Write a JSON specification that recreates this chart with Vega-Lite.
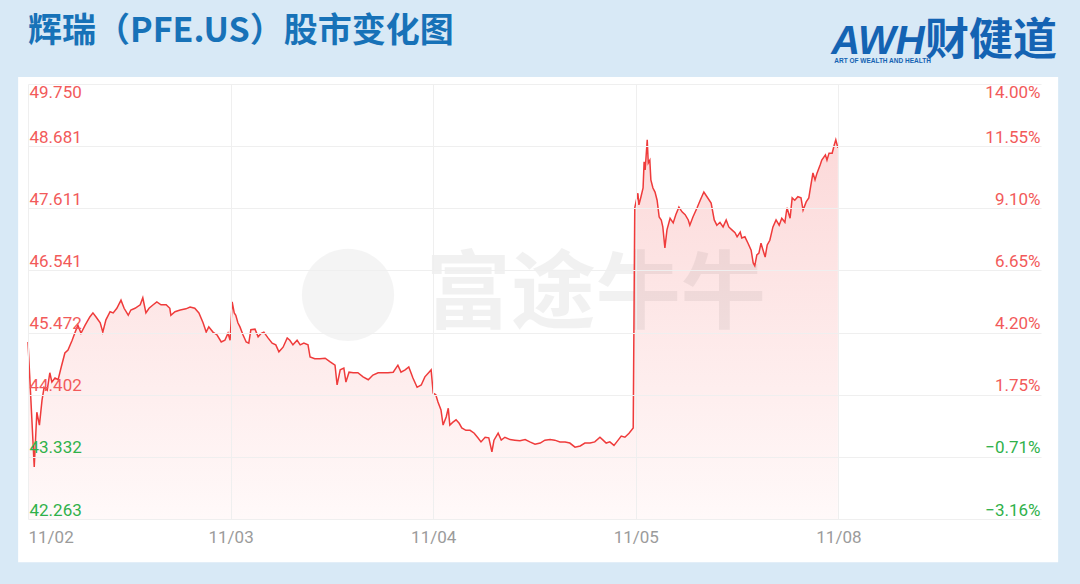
{
  "$schema": "https://vega.github.io/schema/vega-lite/v6.json",
  "width": 1013,
  "height": 435,
  "autosize": {"type": "none"},
  "padding": {"left": 28, "top": 84, "right": 39, "bottom": 65},
  "background": "#d8e9f6",
  "config": {"view": {"stroke": null}},
  "datasets": {
    "pfe": [
      {"m":0,"p":45.31},{"m":12,"p":43.16},{"m":17,"p":44.10},{"m":22,"p":43.88},{"m":27,"p":44.31},{"m":31,"p":44.53},{"m":37,"p":44.48},{"m":42,"p":44.78},{"m":46,"p":44.62},{"m":52,"p":44.69},{"m":58,"p":44.66},{"m":64,"p":44.88},{"m":71,"p":45.12},{"m":77,"p":45.17},{"m":85,"p":45.34},{"m":90,"p":45.46},{"m":96,"p":45.60},{"m":102,"p":45.46},{"m":110,"p":45.60},{"m":119,"p":45.74},{"m":125,"p":45.81},{"m":131,"p":45.74},{"m":139,"p":45.64},{"m":144,"p":45.48},{"m":150,"p":45.69},{"m":158,"p":45.83},{"m":164,"p":45.81},{"m":171,"p":45.89},{"m":179,"p":46.03},{"m":185,"p":45.89},{"m":193,"p":45.77},{"m":198,"p":45.86},{"m":206,"p":45.89},{"m":216,"p":45.95},{"m":221,"p":46.07},{"m":227,"p":45.81},{"m":233,"p":45.89},{"m":241,"p":45.95},{"m":248,"p":46.00},{"m":256,"p":45.95},{"m":266,"p":45.95},{"m":273,"p":45.89},{"m":275,"p":45.77},{"m":283,"p":45.83},{"m":293,"p":45.86},{"m":304,"p":45.88},{"m":312,"p":45.91},{"m":321,"p":45.89},{"m":329,"p":45.81},{"m":337,"p":45.64},{"m":343,"p":45.48},{"m":348,"p":45.57},{"m":356,"p":45.48},{"m":364,"p":45.43},{"m":372,"p":45.31},{"m":379,"p":45.34},{"m":385,"p":45.46},{"m":389,"p":45.34},
      {"m":393,"p":46.00},{"m":397,"p":45.81},{"m":400,"p":45.77},{"m":404,"p":45.64},{"m":408,"p":45.57},{"m":414,"p":45.43},{"m":420,"p":45.31},{"m":425,"p":45.29},{"m":429,"p":45.52},{"m":437,"p":45.53},{"m":443,"p":45.40},{"m":449,"p":45.46},{"m":454,"p":45.48},{"m":462,"p":45.38},{"m":470,"p":45.29},{"m":477,"p":45.26},{"m":483,"p":45.14},{"m":491,"p":45.22},{"m":499,"p":45.38},{"m":504,"p":45.34},{"m":510,"p":45.26},{"m":518,"p":45.34},{"m":524,"p":45.26},{"m":531,"p":45.29},{"m":539,"p":45.26},{"m":543,"p":45.05},{"m":552,"p":45.02},{"m":562,"p":45.02},{"m":572,"p":45.03},{"m":581,"p":44.97},{"m":591,"p":44.91},{"m":595,"p":44.57},{"m":601,"p":44.83},{"m":608,"p":44.86},{"m":612,"p":44.62},{"m":618,"p":44.79},{"m":626,"p":44.78},{"m":635,"p":44.78},{"m":645,"p":44.71},{"m":655,"p":44.66},{"m":664,"p":44.74},{"m":674,"p":44.78},{"m":683,"p":44.78},{"m":693,"p":44.78},{"m":703,"p":44.79},{"m":712,"p":44.91},{"m":718,"p":44.79},{"m":726,"p":44.83},{"m":733,"p":44.88},{"m":741,"p":44.69},{"m":749,"p":44.53},{"m":757,"p":44.57},{"m":764,"p":44.71},{"m":772,"p":44.79},{"m":776,"p":44.83},
      {"m":780,"p":44.43},{"m":785,"p":44.40},{"m":789,"p":44.28},{"m":795,"p":44.14},{"m":799,"p":43.88},{"m":805,"p":44.02},{"m":809,"p":44.17},{"m":812,"p":43.88},{"m":818,"p":43.93},{"m":824,"p":43.97},{"m":830,"p":43.91},{"m":835,"p":43.83},{"m":843,"p":43.79},{"m":851,"p":43.79},{"m":859,"p":43.74},{"m":866,"p":43.66},{"m":872,"p":43.59},{"m":880,"p":43.67},{"m":887,"p":43.66},{"m":893,"p":43.42},{"m":897,"p":43.62},{"m":905,"p":43.74},{"m":911,"p":43.62},{"m":918,"p":43.67},{"m":928,"p":43.63},{"m":937,"p":43.62},{"m":947,"p":43.61},{"m":957,"p":43.63},{"m":966,"p":43.59},{"m":976,"p":43.55},{"m":986,"p":43.57},{"m":995,"p":43.62},{"m":1005,"p":43.63},{"m":1014,"p":43.62},{"m":1024,"p":43.59},{"m":1034,"p":43.59},{"m":1043,"p":43.57},{"m":1053,"p":43.50},{"m":1063,"p":43.52},{"m":1072,"p":43.57},{"m":1082,"p":43.57},{"m":1091,"p":43.59},{"m":1101,"p":43.67},{"m":1107,"p":43.62},{"m":1113,"p":43.57},{"m":1120,"p":43.59},{"m":1128,"p":43.53},{"m":1136,"p":43.62},{"m":1142,"p":43.69},{"m":1149,"p":43.67},{"m":1157,"p":43.74},{"m":1165,"p":43.83},
      {"m":1168,"p":47.62},{"m":1174,"p":47.87},{"m":1176,"p":47.67},{"m":1180,"p":47.81},{"m":1184,"p":47.96},{"m":1186,"p":48.41},{"m":1188,"p":48.27},{"m":1192,"p":48.79},{"m":1194,"p":48.39},{"m":1197,"p":48.44},{"m":1199,"p":48.10},{"m":1203,"p":47.96},{"m":1207,"p":47.89},{"m":1211,"p":47.75},{"m":1215,"p":47.46},{"m":1219,"p":47.41},{"m":1222,"p":47.29},{"m":1226,"p":46.93},{"m":1230,"p":47.24},{"m":1236,"p":47.44},{"m":1242,"p":47.36},{"m":1247,"p":47.50},{"m":1253,"p":47.63},{"m":1259,"p":47.55},{"m":1265,"p":47.50},{"m":1271,"p":47.41},{"m":1274,"p":47.32},{"m":1280,"p":47.46},{"m":1288,"p":47.62},{"m":1294,"p":47.75},{"m":1301,"p":47.89},{"m":1307,"p":47.81},{"m":1315,"p":47.70},{"m":1321,"p":47.41},{"m":1326,"p":47.32},{"m":1332,"p":47.37},{"m":1338,"p":47.29},{"m":1344,"p":47.41},{"m":1349,"p":47.29},{"m":1355,"p":47.24},{"m":1361,"p":47.19},{"m":1365,"p":47.12},{"m":1371,"p":47.20},{"m":1374,"p":47.10},{"m":1380,"p":47.12},{"m":1386,"p":47.01},{"m":1392,"p":46.89},{"m":1396,"p":46.67},{"m":1399,"p":46.62},{"m":1403,"p":46.81},{"m":1407,"p":46.84},{"m":1411,"p":47.01},{"m":1415,"p":46.89},{"m":1419,"p":46.77},{"m":1423,"p":46.98},{"m":1428,"p":47.06},{"m":1434,"p":47.29},{"m":1440,"p":47.41},{"m":1446,"p":47.32},{"m":1451,"p":47.44},{"m":1457,"p":47.37},{"m":1461,"p":47.62},{"m":1467,"p":47.44},{"m":1471,"p":47.79},{"m":1476,"p":47.75},{"m":1482,"p":47.81},{"m":1488,"p":47.79},{"m":1492,"p":47.58},{"m":1498,"p":47.72},{"m":1503,"p":47.79},{"m":1507,"p":48.01},{"m":1511,"p":48.22},{"m":1515,"p":48.10},{"m":1519,"p":48.22},{"m":1525,"p":48.36},{"m":1528,"p":48.44},{"m":1535,"p":48.53},{"m":1538,"p":48.44},{"m":1542,"p":48.56},{"m":1548,"p":48.56},{"m":1552,"p":48.70},{"m":1555,"p":48.79},{"m":1559,"p":48.65}
    ]
  },
  "layer": [
    {
      "layer": [
        {
          "data": {"values": [{}]},
          "mark": {"type": "rect", "fill": "#ffffff"},
          "encoding": {
            "x": {"datum": -19, "type": "quantitative", "scale": {"domain": [0, 1950], "nice": false, "zero": false}, "axis": null},
            "x2": {"datum": 1983},
            "y": {"datum": 49.87, "type": "quantitative", "scale": {"domain": [42.263, 49.75], "nice": false, "zero": false}, "axis": null},
            "y2": {"datum": 41.52}
          }
        },
        {
          "data": {"values": [{"t": "辉瑞（PFE.US）股市变化图"}]},
          "mark": {"type": "text", "font": "Noto Sans CJK SC", "fontSize": 34, "fontWeight": "bold", "color": "#1772b8", "align": "left", "baseline": "middle"},
          "encoding": {
            "x": {"datum": 0, "type": "quantitative", "scale": {"domain": [0, 1950], "nice": false, "zero": false}, "axis": null},
            "y": {"datum": 50.645, "type": "quantitative", "scale": {"domain": [42.263, 49.75], "nice": false, "zero": false}, "axis": null},
            "text": {"field": "t"}
          }
        },
        {
          "data": {"values": [{"t": "AWH"}]},
          "mark": {"type": "text", "font": "Liberation Sans", "fontSize": 40, "fontWeight": "bold", "fontStyle": "italic", "color": "#1463b3", "align": "right", "baseline": "alphabetic"},
          "encoding": {
            "x": {"datum": 1726, "type": "quantitative", "scale": {"domain": [0, 1950], "nice": false, "zero": false}, "axis": null},
            "y": {"datum": 50.26, "type": "quantitative", "scale": {"domain": [42.263, 49.75], "nice": false, "zero": false}, "axis": null},
            "text": {"field": "t"}
          }
        },
        {
          "data": {"values": [{"t": "财健道"}]},
          "mark": {"type": "text", "font": "Noto Sans CJK SC", "fontSize": 44, "fontWeight": "bold", "color": "#1463b3", "align": "right", "baseline": "middle"},
          "encoding": {
            "x": {"datum": 1981, "type": "quantitative", "scale": {"domain": [0, 1950], "nice": false, "zero": false}, "axis": null},
            "y": {"datum": 50.473, "type": "quantitative", "scale": {"domain": [42.263, 49.75], "nice": false, "zero": false}, "axis": null},
            "text": {"field": "t"}
          }
        },
        {
          "data": {"values": [{"t": "ART OF WEALTH AND HEALTH"}]},
          "mark": {"type": "text", "font": "Liberation Sans", "fontSize": 6.5, "fontWeight": "bold", "color": "#1463b3", "align": "left", "baseline": "middle"},
          "encoding": {
            "x": {"datum": 1552, "type": "quantitative", "scale": {"domain": [0, 1950], "nice": false, "zero": false}, "axis": null},
            "y": {"datum": 50.14, "type": "quantitative", "scale": {"domain": [42.263, 49.75], "nice": false, "zero": false}, "axis": null},
            "text": {"field": "t"}
          }
        }
      ]
    },
    {
      "data": {"name": "pfe"},
      "mark": {
        "type": "area",
        "opacity": 1,
        "fill": {"x1": 0, "y1": 0, "x2": 0, "y2": 1, "gradient": "linear", "stops": [{"offset": 0, "color": "#fcd9d9"}, {"offset": 1, "color": "#fff9f9"}]}
      },
      "encoding": {
        "x": {"field": "m", "type": "quantitative", "scale": {"domain": [0, 1950], "nice": false, "zero": false}, "axis": null},
        "y": {
          "field": "p", "type": "quantitative",
          "scale": {"domain": [42.263, 49.75], "nice": false, "zero": false},
          "axis": {
            "orient": "left", "title": null, "zindex": 1,
            "values": [42.263, 43.332, 44.402, 45.472, 46.541, 47.611, 48.681, 49.75],
            "format": ".3f",
            "labelAlign": "left",
            "labelBaseline": {"condition": {"test": "datum.value > 49.7", "value": "top"}, "value": "bottom"},
            "labelPadding": -1,
            "labelFlush": false, "labelOverlap": false, "labelBound": false,
            "ticks": false, "domain": false,
            "grid": true, "gridColor": "#efefef", "gridWidth": 1,
            "labelFont": "Roboto", "labelFontSize": 17,
            "labelColor": {"condition": {"test": "datum.value < 43.64", "value": "#2fb14a"}, "value": "#f25a5a"}
          }
        },
        "y2": {"datum": 42.263}
      }
    },
    {
      "layer": [
        {
          "data": {"values": [{}]},
          "mark": {"type": "point", "shape": "circle", "filled": true, "color": "#000000", "opacity": 0.045, "size": 8500},
          "encoding": {
            "x": {"datum": 616, "type": "quantitative", "scale": {"domain": [0, 1950], "nice": false, "zero": false}, "axis": null},
            "y": {"datum": 46.12, "type": "quantitative", "scale": {"domain": [42.263, 49.75], "nice": false, "zero": false}, "axis": null}
          }
        },
        {
          "data": {"values": [{"t": "富途牛牛"}]},
          "mark": {"type": "text", "font": "Noto Sans CJK SC", "fontSize": 85, "fontWeight": "bold", "color": "#000000", "opacity": 0.05, "align": "center", "baseline": "middle"},
          "encoding": {
            "x": {"datum": 1093, "type": "quantitative", "scale": {"domain": [0, 1950], "nice": false, "zero": false}, "axis": null},
            "y": {"datum": 46.10, "type": "quantitative", "scale": {"domain": [42.263, 49.75], "nice": false, "zero": false}, "axis": null},
            "text": {"field": "t"}
          }
        }
      ]
    },
    {
      "data": {"name": "pfe"},
      "mark": {"type": "line", "color": "#ef3b3b", "strokeWidth": 1.5},
      "encoding": {
        "x": {
          "field": "m", "type": "quantitative",
          "scale": {"domain": [0, 1950], "nice": false, "zero": false},
          "axis": {
            "title": null, "zindex": 1, "orient": "bottom",
            "values": [0, 390, 780, 1170, 1560],
            "labelExpr": "['11/02','11/03','11/04','11/05','11/08'][round(datum.value/390)]",
            "grid": true, "gridColor": "#efefef", "ticks": false, "domain": false,
            "labelFlush": true, "labelOverlap": false, "labelPadding": 10,
            "labelColor": "#9b9b9b", "labelFont": "Roboto", "labelFontSize": 17
          }
        },
        "y": {
          "field": "p", "type": "quantitative",
          "scale": {"domain": [42.263, 49.75], "nice": false, "zero": false},
          "axis": {
            "orient": "right", "title": null, "zindex": 1,
            "values": [42.263, 43.332, 44.402, 45.472, 46.541, 47.611, 48.681, 49.75],
            "labelExpr": "format((datum.value/43.64-1)*100, '.2f') + '%'",
            "labelAlign": "right",
            "labelBaseline": {"condition": {"test": "datum.value > 49.7", "value": "top"}, "value": "bottom"},
            "labelPadding": -1,
            "labelFlush": false, "labelOverlap": false, "labelBound": false,
            "ticks": false, "domain": false, "grid": false,
            "labelFont": "Roboto", "labelFontSize": 17,
            "labelColor": {"condition": {"test": "datum.value < 43.64", "value": "#2fb14a"}, "value": "#f25a5a"}
          }
        }
      }
    }
  ],
  "resolve": {"scale": {"x": "independent", "y": "independent"}}
}
